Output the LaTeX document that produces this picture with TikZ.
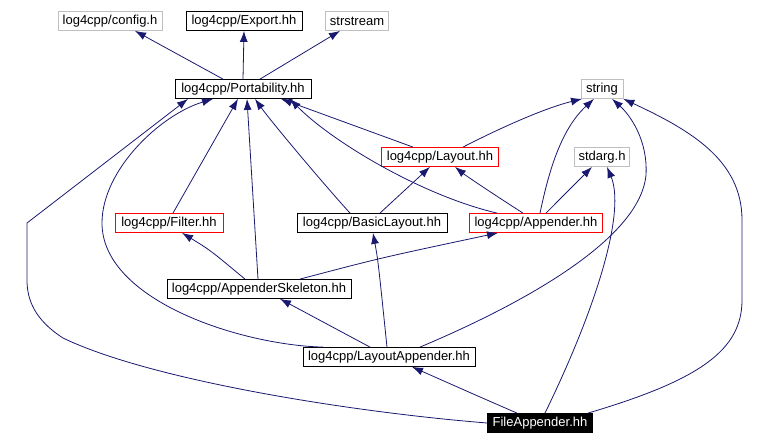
\documentclass[tikz,border=0pt]{standalone}
\usepackage{fontspec}
\setmainfont{Liberation Sans}
\usetikzlibrary{arrows.meta}
\definecolor{edge}{HTML}{191970}
\definecolor{sysgray}{HTML}{BFBFBF}

\begin{document}
\begin{tikzpicture}[x=1pt,y=-1pt,
  file/.style={draw=black,line width=0.8pt,minimum height=19pt,inner xsep=4pt,inner ysep=0pt,
    font=\fontsize{13}{15}\selectfont},
  sys/.style={file,draw=sysgray},
  doc/.style={file,draw=red},
  top/.style={file,fill=black,text=white},
  dep/.style={draw=edge,line width=0.8pt,-{Latex[length=11pt,width=8pt]}}]

\useasboundingbox (0,0) rectangle (769,446);

% files
\node[sys,minimum width=104pt] (cfg)  at (110,21)  {log4cpp/config.h};
\node[file,minimum width=116pt] (exp) at (244,21)  {log4cpp/Export.hh};
\node[sys,minimum width=63pt]  (strs) at (357,21)  {strstream};
\node[file,minimum width=136pt] (port) at (243,89) {log4cpp/Portability.hh};
\node[sys,minimum width=42pt]  (str)  at (602,89)  {string};
\node[doc,minimum width=117pt] (lay)  at (440,157) {log4cpp/Layout.hh};
\node[sys,minimum width=55pt]  (stda) at (602,157) {stdarg.h};
\node[doc,minimum width=108pt] (fil)  at (169,223) {log4cpp/Filter.hh};
\node[file,minimum width=150pt] (bas) at (372,223) {log4cpp/BasicLayout.hh};
\node[doc,minimum width=133pt] (app)  at (536,223) {log4cpp/Appender.hh};
\node[file,minimum width=184pt] (skel) at (259,289) {log4cpp/AppenderSkeleton.hh};
\node[file,minimum width=172pt] (la)  at (389,357) {log4cpp/LayoutAppender.hh};
\node[top,minimum width=105pt] (fa)   at (540,423) {FileAppender.hh};

% Portability.hh
\draw[dep] ([xshift=-20pt]port.north) -- ([xshift=25pt]cfg.south);
\draw[dep] (port.north) -- (exp.south);
\draw[dep] ([xshift=17pt]port.north) -- ([xshift=-17pt]strs.south);

% Layout.hh
\draw[dep] ([xshift=-27pt]lay.north) -- ([xshift=38pt]port.south);
\draw[dep] ([xshift=23pt]lay.north) .. controls (500,128) and (545,108) .. ([xshift=-20pt]str.south);

% Appender.hh
\draw[dep] ([xshift=-39pt]app.north) .. controls (420,195) and (330,140) .. ([xshift=47pt]port.south);
\draw[dep] ([xshift=-13pt]app.north) .. controls (490,192) and (465,175) .. ([xshift=15pt]lay.south);
\draw[dep] ([xshift=4pt]app.north) .. controls (548,175) and (560,130) .. ([xshift=-8pt]str.south);
\draw[dep] ([xshift=10pt]app.north) -- ([xshift=-10pt]stda.south);

% BasicLayout.hh
\draw[dep] ([xshift=8pt]bas.north) -- ([xshift=-10pt]lay.south);
\draw[dep] ([xshift=-22pt]bas.north) .. controls (320,180) and (270,120) .. ([xshift=12pt]port.south);

% Filter.hh
\draw[dep] ([xshift=4pt]fil.north) -- ([xshift=-5pt]port.south);

% AppenderSkeleton.hh
\draw[dep] ([xshift=-1pt]skel.north) -- ([xshift=4pt]port.south);
\draw[dep] ([xshift=-14pt]skel.north) .. controls (210,250) .. ([xshift=13pt]fil.south);
\draw[dep] ([xshift=41pt]skel.north) .. controls (380,258) .. ([xshift=-38pt]app.south);

% LayoutAppender.hh
\draw[dep] ([xshift=-19pt]la.north) -- ([xshift=21pt]skel.south);
\draw[dep] ([xshift=-2pt]la.north) .. controls (378,260) .. ([xshift=1pt]bas.south);
\draw[dep] ([xshift=-66pt]la.north) .. controls (240,345) and (102,300) .. (102,223)
  .. controls (102,170) and (160,115) .. ([xshift=-30pt]port.south);
\draw[dep] ([xshift=31pt]la.north) .. controls (520,305) and (640,240) .. (646,175)
  .. controls (648,140) and (630,115) .. ([xshift=10pt]str.south);

% FileAppender.hh
\draw[dep] ([xshift=-23pt]fa.north) .. controls (480,397) .. ([xshift=23pt]la.south);
\draw[dep] ([xshift=5pt]fa.north) .. controls (600,300) and (625,210) .. ([xshift=5pt]stda.south);
\draw[dep] ([xshift=48pt]fa.north) .. controls (700,380) and (742,350) .. (742,300) -- (742,220)
  .. controls (742,160) and (690,130) .. (str.south east);
\draw[dep] (fa.west) .. controls (350,412) and (150,380) .. (63,338)
  .. controls (35,320) and (27,300) .. (27,280) -- (27,223) -- ([xshift=-55pt]port.south);
\end{tikzpicture}
\end{document}
